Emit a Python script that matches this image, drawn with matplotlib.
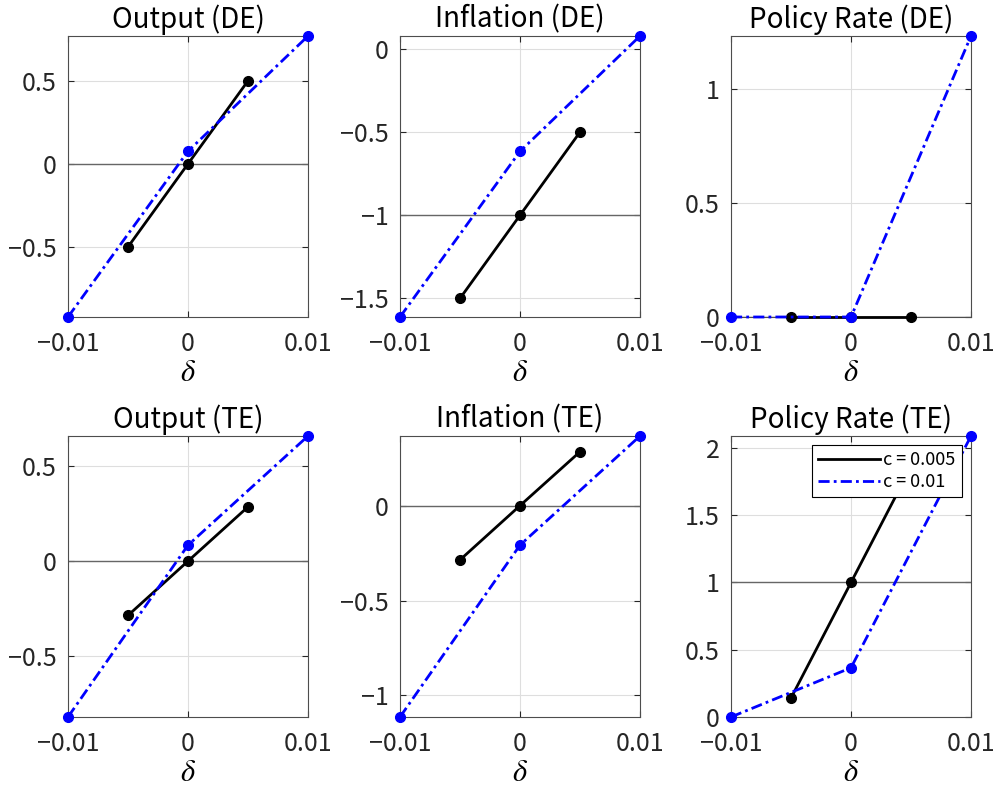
import matplotlib
matplotlib.use("Agg")
import matplotlib.pyplot as plt
from matplotlib.lines import Line2D

plt.rcParams['font.family'] = ['Noto Sans CJK JP', 'DejaVu Sans']
plt.rcParams['mathtext.fontset'] = 'stix'
plt.rcParams['axes.unicode_minus'] = True

# delta grids
x_c005 = [-0.005, 0.0, 0.005]
x_c01 = [-0.01, 0.0, 0.01]

titles = ["Output (DE)", "Inflation (DE)", "Policy Rate (DE)",
          "Output (TE)", "Inflation (TE)", "Policy Rate (TE)"]

# c = 0.005 (black)
out_de_c005 = [-0.5, 0.0, 0.5]
inf_de_c005 = [-1.5, -1.0, -0.5]
pol_de_c005 = [0.0, 0.0, 0.0]
out_te_c005 = [-0.286, 0.0, 0.286]
inf_te_c005 = [-0.286, 0.0, 0.284]
pol_te_c005 = [0.141, 1.0, 1.86]

# c = 0.01 (blue)
out_de_c01 = [-0.922, 0.076, 0.77]
inf_de_c01 = [-1.612, -0.616, 0.078]
pol_de_c01 = [0.0, 0.0, 1.234]
out_te_c01 = [-0.821, 0.084, 0.659]
inf_te_c01 = [-1.114, -0.208, 0.367]
pol_te_c01 = [0.0, 0.366, 2.089]

ref_level = [0.0, -1.0, 0.0, 0.0, 0.0, 1.0]

yticks = [[-0.5, 0, 0.5], [-1.5, -1, -0.5, 0], [0, 0.5, 1],
          [-0.5, 0, 0.5], [-1, -0.5, 0], [0, 0.5, 1, 1.5, 2]]

black_sets = [out_de_c005, inf_de_c005, pol_de_c005, out_te_c005, inf_te_c005, pol_te_c005]
blue_sets = [out_de_c01, inf_de_c01, pol_de_c01, out_te_c01, inf_te_c01, pol_te_c01]

fig = plt.figure(figsize=(9.96, 7.92), dpi=100)

lefts = [68 / 996, 400 / 996, 731 / 996]
bottoms = [(792 - 317) / 792, (792 - 717) / 792]
w = 240 / 996
h = 281 / 792

blue_dash = [4, 1.5, 1, 1.5]

def fmt(v):
    s = ("%g" % v)
    return s.replace("-", "\u2212")

ax_list = []
for i in range(6):
    r, c = divmod(i, 3)
    ax = fig.add_axes([lefts[c], bottoms[r], w, h])
    ax_list.append(ax)
    yb = black_sets[i]
    yl = blue_sets[i]
    ax.axhline(ref_level[i], color='0.4', lw=1.0, zorder=1)
    ax.plot(x_c005, yb, color='black', lw=2, marker='o', ms=7,
            zorder=3, clip_on=False)
    ax.plot(x_c01, yl, color='blue', lw=2, marker='o', ms=7,
            dashes=blue_dash, zorder=3, clip_on=False)
    ax.set_xlim(-0.01, 0.01)
    lo = min(min(yb), min(yl))
    hi = max(max(yb), max(yl))
    ax.set_ylim(lo, hi)
    ax.set_xticks(x_c01)
    ax.set_xticklabels([fmt(v) for v in x_c01])
    ax.set_yticks(yticks[i])
    ax.set_yticklabels([fmt(v) for v in yticks[i]])
    ax.grid(True, color='0.87', lw=0.8)
    ax.set_axisbelow(True)
    ax.tick_params(direction='in', length=4, labelsize=18, colors='0.15',
                   top=True, right=True)
    ax.tick_params(axis='x', pad=10)
    ax.tick_params(axis='y', pad=8)
    for sp in ax.spines.values():
        sp.set_color('0.3')
        sp.set_linewidth(0.8)
    ax.set_title(titles[i], fontsize=20, pad=6)
    ax.set_xlabel(r'$\delta$', fontsize=22, labelpad=0)

handles = [Line2D([], [], color='black', lw=2),
           Line2D([], [], color='blue', lw=2, dashes=blue_dash)]
leg = ax_list[5].legend(handles, ['c = 0.005', 'c = 0.01'], loc='upper right',
                        fontsize=13, handlelength=3.4,
                        frameon=True, fancybox=False, borderpad=0.35,
                        labelspacing=0.2, handletextpad=0.2,
                        borderaxespad=0.5)
leg.get_frame().set_edgecolor('black')
leg.get_frame().set_linewidth(0.8)
leg.get_frame().set_alpha(1)

fig.savefig("out.png", dpi=100)
